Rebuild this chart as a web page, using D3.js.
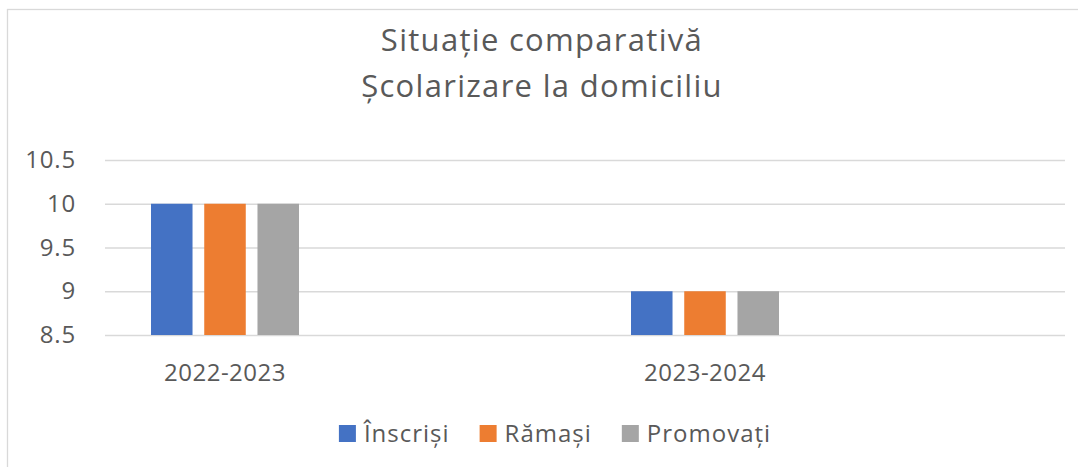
<!DOCTYPE html>
<html>
<head>
<meta charset="utf-8">
<script src="https://cdn.jsdelivr.net/npm/d3@7"></script>
<style>
  body { margin: 0; background: #fff; }
  text { font-family: "Open Sans", sans-serif; fill: #595959; }
</style>
</head>
<body>
<script>
// date
var categories = ["2022-2023", "", "2023-2024", ""];
var seriesNames = ["Înscriși", "Rămași", "Promovați"];
var inscrisi = [10, null, 9, null];
var ramasi = [10, null, 9, null];
var promovati = [10, null, 9, null];
var yTicks = [8.5, 9, 9.5, 10, 10.5];
var titleLines = ["Situație comparativă", "Școlarizare la domiciliu"];

var colors = ["#4472c4", "#ed7d31", "#a5a5a5"];
var series = [inscrisi, ramasi, promovati];

var width = 1078, height = 467;
var plot = {left: 105, right: 1065, top: 160, bottom: 335};

var svg = d3.select("body").append("svg")
    .attr("width", width)
    .attr("height", height);

// chenarul graficului (iese din imagine la dreapta si jos)
svg.append("rect")
    .attr("x", 7.5).attr("y", 9.5)
    .attr("width", 1100).attr("height", 500)
    .attr("fill", "#fff")
    .attr("stroke", "#d9d9d9")
    .attr("stroke-width", 1.3);

// titlu
svg.selectAll(".title")
    .data(titleLines)
  .enter().append("text")
    .attr("class", "title")
    .attr("x", 542)
    .attr("y", function(d, i) { return 51 + i * 46; })
    .attr("text-anchor", "middle")
    .style("font-size", "31px")
    .style("letter-spacing", "1.3px")
    .text(function(d) { return d; });

var x = d3.scaleBand()
    .domain(d3.range(categories.length))
    .range([plot.left, plot.right]);

var xInner = d3.scaleBand()
    .domain(d3.range(series.length))
    .range([46, x.bandwidth() - 46])
    .paddingInner(0.22);

var y = d3.scaleLinear()
    .domain([8.5, 10.5])
    .range([plot.bottom, plot.top]);

// grila + etichete axa y
var yAxis = svg.append("g")
    .attr("transform", "translate(" + plot.left + ",0)")
    .call(d3.axisLeft(y)
      .tickValues(yTicks)
      .tickSize(-(plot.right - plot.left))
      .tickPadding(29)
      .tickFormat(d3.format("~g")));
yAxis.select(".domain").remove();
yAxis.selectAll("line")
    .attr("stroke", "#d9d9d9")
    .attr("stroke-width", 1.3);
yAxis.selectAll("text")
    .style("font-size", "24px")
    .style("letter-spacing", "0.8px")
    .attr("font-family", null);

// bare
var groups = svg.selectAll(".cat")
    .data(categories.map(function(c, i) { return i; }))
  .enter().append("g")
    .attr("class", "cat")
    .attr("transform", function(i) { return "translate(" + x(i) + ",0)"; });

groups.selectAll("rect")
    .data(function(i) {
      return series.map(function(s, k) { return {k: k, v: s[i]}; })
        .filter(function(d) { return d.v != null; });
    })
  .enter().append("rect")
    .attr("x", function(d) { return xInner(d.k); })
    .attr("width", xInner.bandwidth())
    .attr("y", function(d) { return y(d.v); })
    .attr("height", function(d) { return y(8.5) - y(d.v); })
    .attr("fill", function(d) { return colors[d.k]; });

// axa x
var xAxis = svg.append("g")
    .attr("transform", "translate(0," + plot.bottom + ")")
    .call(d3.axisBottom(x)
      .tickSize(0)
      .tickFormat(function(i) { return categories[i]; }));
xAxis.select(".domain").remove();
xAxis.selectAll("text")
    .attr("y", 46)
    .attr("dy", null)
    .style("font-size", "24px")
    .style("letter-spacing", "0.5px")
    .attr("font-family", null);

// legenda
var legend = svg.append("g");
var lx = 0;
seriesNames.forEach(function(name, k) {
  var item = legend.append("g").attr("transform", "translate(" + lx + ",0)");
  item.append("rect")
      .attr("x", 0).attr("y", 425)
      .attr("width", 17).attr("height", 17)
      .attr("fill", colors[k]);
  var t = item.append("text")
      .attr("x", 25).attr("y", 442)
      .style("font-size", "24px")
      .style("letter-spacing", "1px")
      .text(name);
  lx += 25 + t.node().getComputedTextLength() + 30;
});
var legendWidth = lx - 30;
legend.attr("transform", "translate(" + (555 - legendWidth / 2) + ",0)");
</script>
</body>
</html>
